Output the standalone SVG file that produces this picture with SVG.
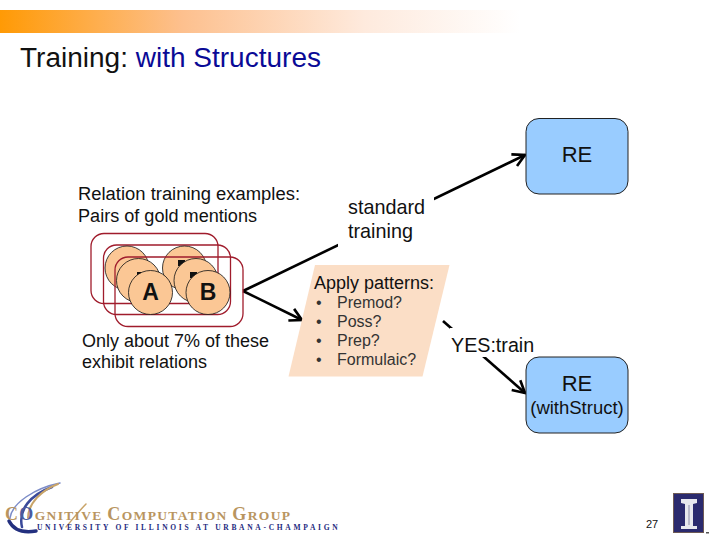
<svg xmlns="http://www.w3.org/2000/svg" width="720" height="540" viewBox="0 0 720 540">
<style>
text{font-family:"Liberation Sans",Arial,sans-serif;fill:#111}
.re{fill:#99CCFF;stroke:#222;stroke-width:1}
.pair{fill:none;stroke:#A01C2C;stroke-width:1.3}
.c{fill:#FBC795;stroke:#111;stroke-width:.8}
.ln{fill:none;stroke:#000;stroke-width:2.6;marker-end:url(#arr)}
.lbl{font-size:19.8px}
.src{font-size:18px}
.it{font-size:16px;fill:#333}
.let{font-size:23px;font-weight:bold;text-anchor:middle;fill:#111}
.sw{fill:none;stroke-linecap:round}
</style>
<defs>
<linearGradient id="bar" x1="0" x2="1" y1="0" y2="0">
<stop offset="0" stop-color="#FF9A05"/><stop offset=".35" stop-color="#FDC08E"/><stop offset=".7" stop-color="#FEEADD"/><stop offset="1" stop-color="#fff"/>
</linearGradient>
<marker id="arr" markerUnits="userSpaceOnUse" markerWidth="20" markerHeight="20" refX="16" refY="10" orient="auto">
<path d="M4 3.500L16 10L4 16.500" fill="none" stroke="#000" stroke-width="2.6"/>
</marker>
</defs>
<rect width="720" height="540" fill="#fff"/>
<g id="header">
<rect x="0" y="10" width="520" height="23" fill="url(#bar)"/>
<text x="20" y="67" font-size="27" textLength="301" lengthAdjust="spacingAndGlyphs">Training: <tspan style="fill:#0A0A96">with Structures</tspan></text>
</g>
<g id="connectors">
<path class="ln" d="M243 291L525 155"/>
<path class="ln" d="M243 291L302 320"/>
<path class="ln" d="M443 321L525 393"/>
</g>
<g id="node-standard">
<rect x="338" y="192" width="96" height="56" fill="#fff"/>
<text class="lbl" x="348" y="214">standard</text>
<text class="lbl" x="348" y="238">training</text>
</g>
<g id="node-re1">
<rect class="re" x="526" y="118.500" width="102" height="75.500" rx="13"/>
<text x="577" y="162" font-size="22" text-anchor="middle">RE</text>
</g>
<g id="node-examples">
<text class="src" x="78" y="200" textLength="222" lengthAdjust="spacingAndGlyphs">Relation training examples:</text>
<text class="src" x="78" y="222" textLength="179" lengthAdjust="spacingAndGlyphs">Pairs of gold mentions</text>
</g>
<g id="node-pairs">
<rect class="pair" x="91" y="233.500" width="127" height="70" rx="13"/>
<rect class="pair" x="103.500" y="245" width="127" height="69.500" rx="13"/>
<circle class="c" cx="127" cy="268" r="22"/>
<circle class="c" cx="184.500" cy="268" r="22"/>
<rect x="178" y="260" width="7" height="6" fill="#111"/>
<circle class="c" cx="138.500" cy="280.500" r="22"/>
<circle class="c" cx="196" cy="280.500" r="22"/>
<rect x="190" y="272" width="7" height="6" fill="#111"/>
<rect x="137" y="272" width="4" height="3" fill="#111"/>
<circle class="c" cx="150.500" cy="292.500" r="22"/>
<circle class="c" cx="208" cy="292.500" r="22"/>
<rect class="pair" x="115" y="257" width="128" height="69.500" rx="13"/>
<text class="let" x="150.500" y="300">A</text>
<text class="let" x="208" y="300">B</text>
</g>
<g id="node-only">
<text class="src" x="82" y="347" textLength="187" lengthAdjust="spacingAndGlyphs">Only about 7% of these</text>
<text class="src" x="82" y="368">exhibit relations</text>
</g>
<g id="node-patterns">
<path d="M315 265H449.500L422.500 376.500H288.500Z" fill="#FBDEC6"/>
<text x="314" y="289" font-size="18">Apply patterns:</text>
<text class="it" x="316" y="308">•</text><text class="it" x="337" y="308">Premod?</text>
<text class="it" x="316" y="327">•</text><text class="it" x="337" y="327">Poss?</text>
<text class="it" x="316" y="346">•</text><text class="it" x="337" y="346">Prep?</text>
<text class="it" x="316" y="365">•</text><text class="it" x="337" y="365">Formulaic?</text>
</g>
<g id="node-yes">
<rect x="450" y="328" width="88" height="29" fill="#fff"/>
<text x="451" y="352" font-size="19.7">YES:train</text>
</g>
<g id="node-re2">
<rect class="re" x="526" y="357" width="102" height="76" rx="13"/>
<text x="577" y="391" font-size="22" text-anchor="middle">RE</text>
<text x="577" y="414" font-size="18.500" text-anchor="middle">(withStruct)</text>
</g>
<g id="logo-ccg">
<path class="sw" stroke="#7C8CC8" stroke-width="1.500" d="M60 483C35 488 12 503 10 518"/>
<path class="sw" stroke="#3A4A9A" stroke-width="2.500" d="M52 487C30 495 18 510 22 527"/>
<path class="sw" stroke="#C9A468" stroke-width="2" d="M58 484C42 490 28 503 28 518"/>
<path class="sw" stroke="#C9A468" stroke-width="1.500" d="M86 504C78 512 72 520 66 527"/>
<path class="sw" stroke="#23307F" stroke-width="3.500" d="M9 521C14 531 24 533 36 531"/>
<text x="5" y="520" style="font-family:'Liberation Serif',serif;fill:#B9955F;font-size:18px;font-weight:bold" textLength="285" lengthAdjust="spacing">C<tspan style="fill:#4A5AA0">O</tspan><tspan font-size="13.500">GNITIVE </tspan>C<tspan font-size="13.500">OMPUTATION </tspan>G<tspan font-size="13.500">ROUP</tspan></text>
<text x="37" y="529.500" style="font-family:'Liberation Serif',serif;fill:#1E2A80;font-size:7.500px;font-weight:bold;letter-spacing:2.700px">UNIVERSITY OF ILLINOIS AT URBANA-CHAMPAIGN</text>
</g>
<g id="page">
<text x="646" y="528" font-size="11">27</text>
</g>
<g id="logo-i">
<rect x="673.500" y="493.500" width="30" height="39" fill="#2B2A6E" stroke="#6E5A55" stroke-width="1"/>
<path d="M681 499H697V503L693 504V526H697V529H681V526H685V504L681 503Z" fill="#E8E8EE"/>
<path d="M689 505V525" stroke="#8C8CA8" stroke-width="1"/>
<rect x="706" y="532" width="3" height="1.500" fill="#555"/>
</g>
</svg>
